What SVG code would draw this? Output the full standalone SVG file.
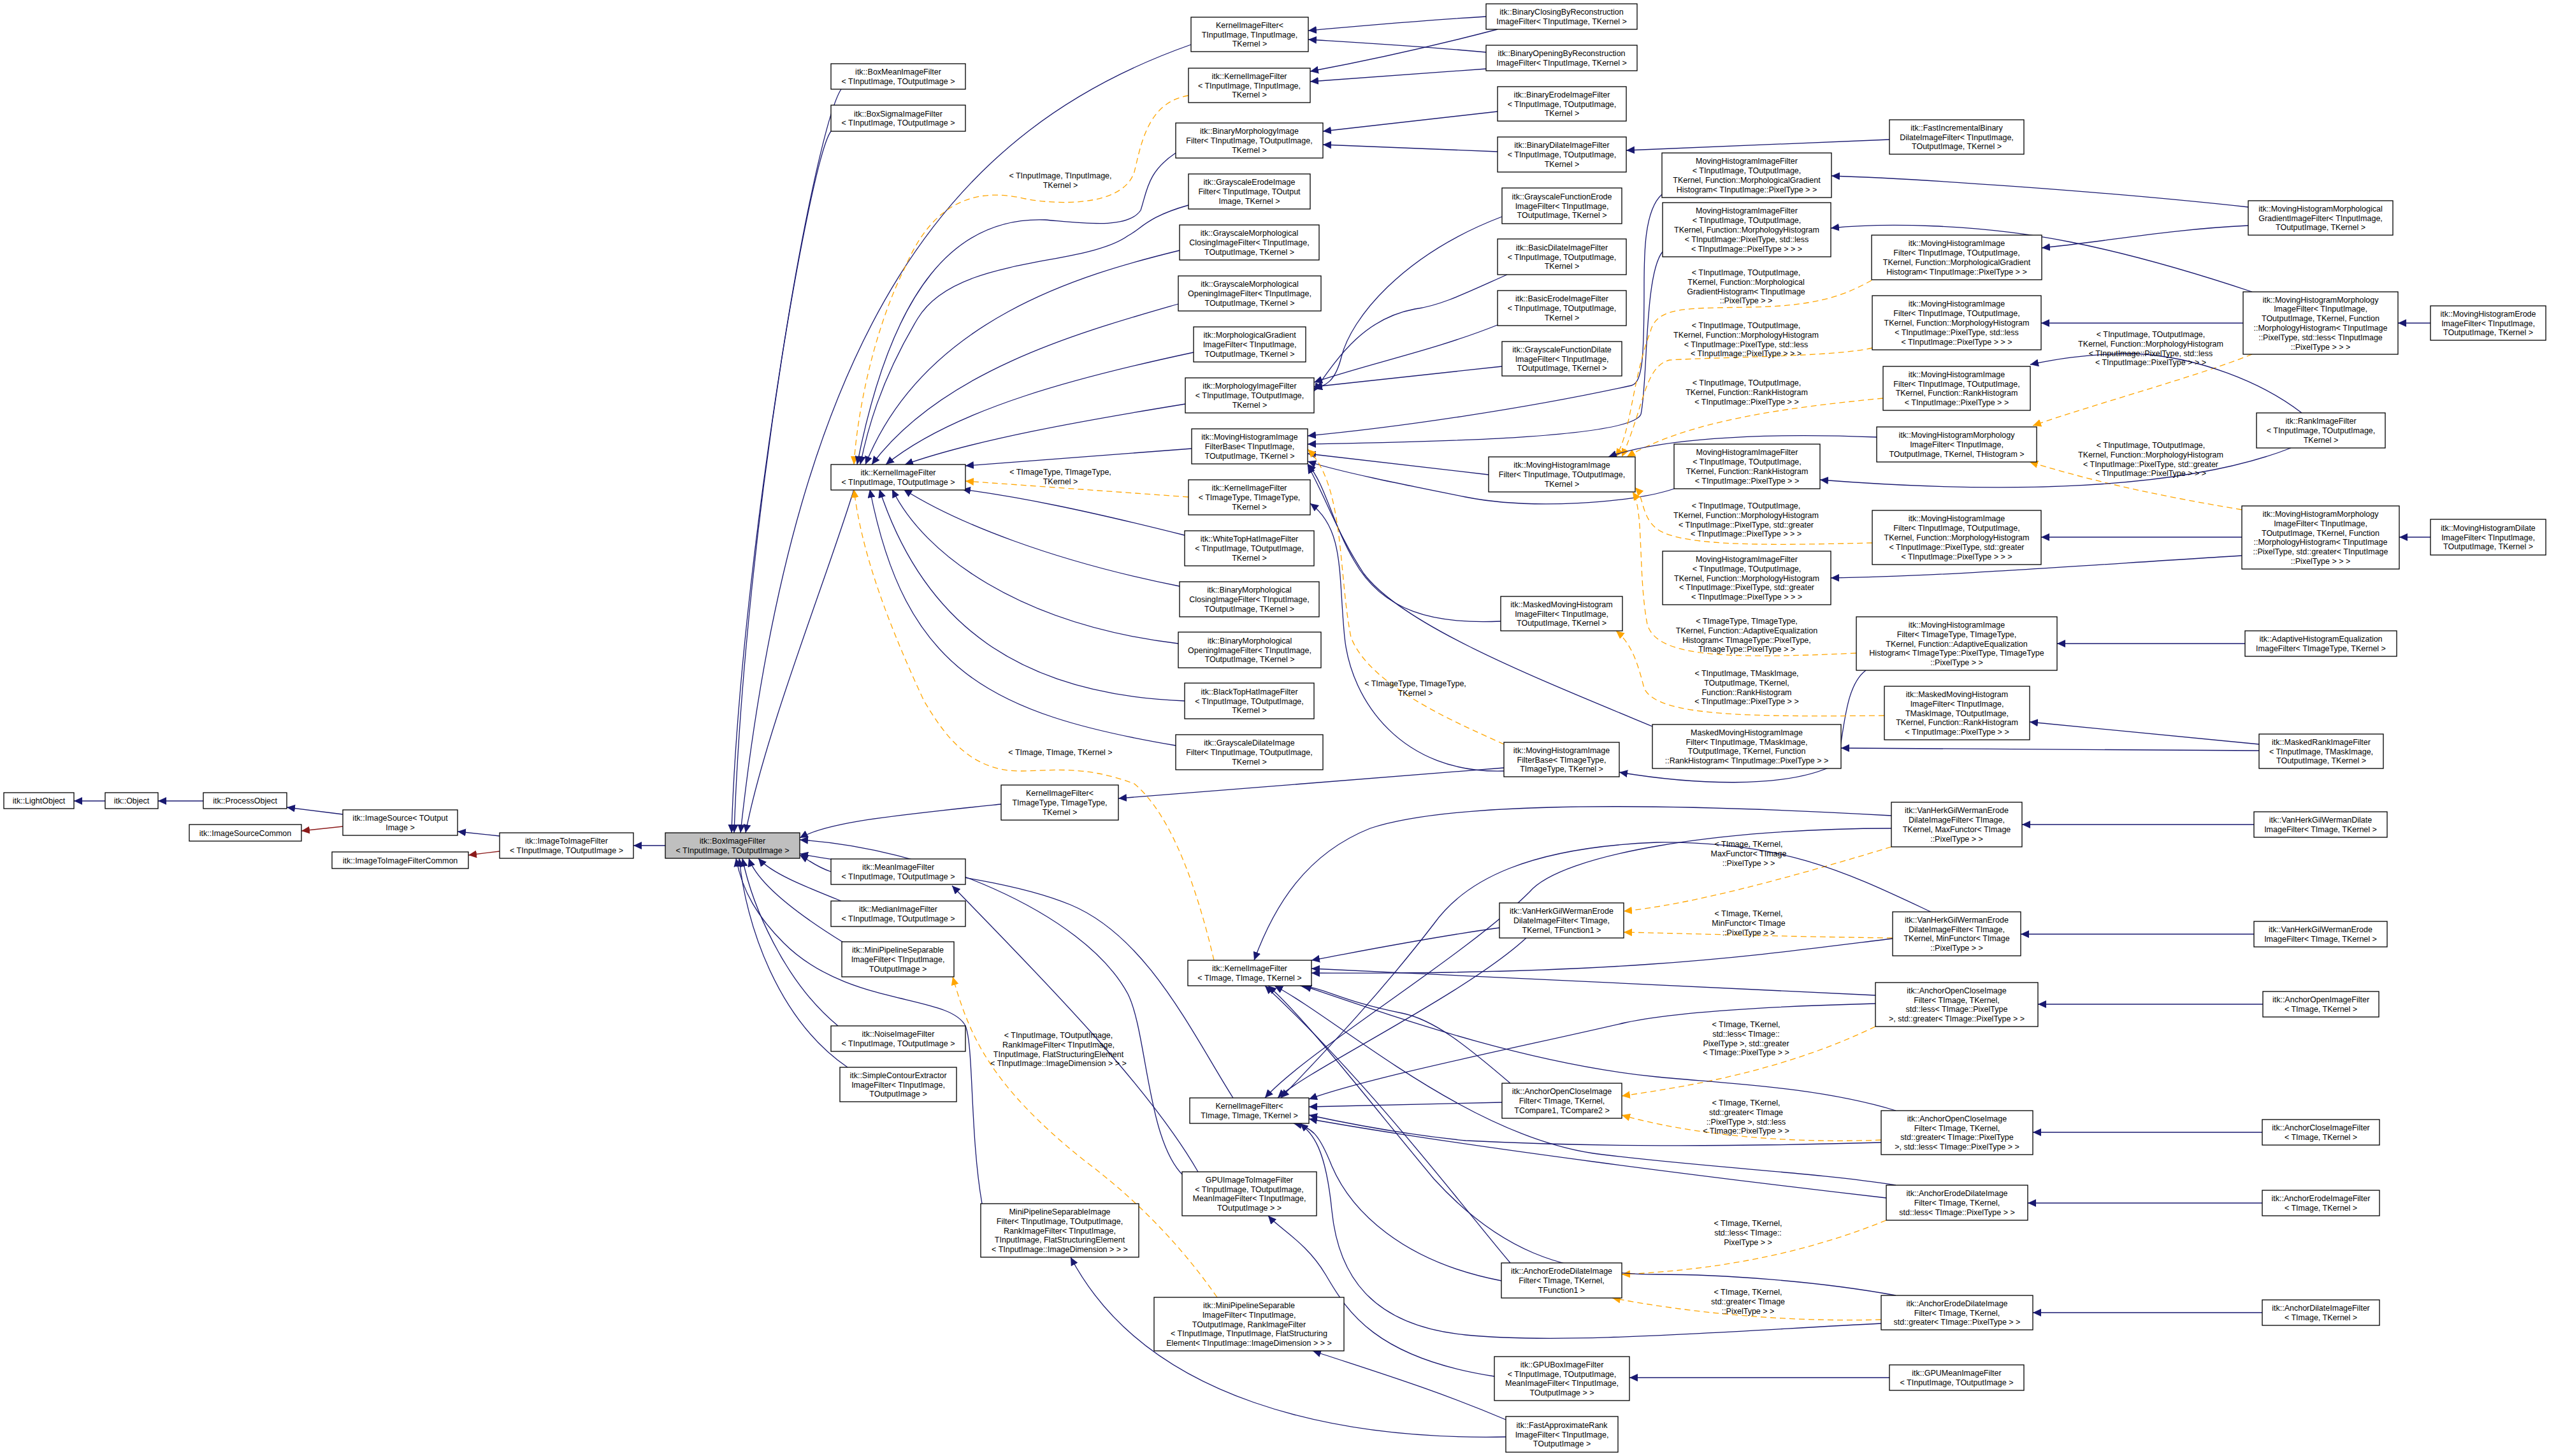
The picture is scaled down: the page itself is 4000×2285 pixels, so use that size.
<svg xmlns="http://www.w3.org/2000/svg" width="4000" height="2285" viewBox="0 0 4000 2285">
<style>
rect{fill:#fff;stroke:#000;stroke-width:1.3}
rect.g{fill:#bfbfbf}
text{font-family:"Liberation Sans",Arial,sans-serif;font-size:12.5px;text-anchor:middle;fill:#000}
.e{fill:none;stroke:#191970;stroke-width:1.3;marker-end:url(#ab)}
.d{fill:none;stroke:#FFA500;stroke-width:1.3;stroke-dasharray:9,6;marker-end:url(#ao)}
.r{fill:none;stroke:#8B1A1A;stroke-width:1.3;marker-end:url(#ar)}
</style>
<defs>
<marker id="ab" markerUnits="userSpaceOnUse" markerWidth="14" markerHeight="12" refX="13" refY="6" orient="auto"><path d="M0,0 L13,6 L0,12 z" fill="#191970"/></marker>
<marker id="ao" markerUnits="userSpaceOnUse" markerWidth="14" markerHeight="12" refX="13" refY="6" orient="auto"><path d="M0,0 L13,6 L0,12 z" fill="#FFA500"/></marker>
<marker id="ar" markerUnits="userSpaceOnUse" markerWidth="14" markerHeight="12" refX="13" refY="6" orient="auto"><path d="M0,0 L13,6 L0,12 z" fill="#8B1A1A"/></marker>
</defs>
<rect x="0" y="0" width="4000" height="2285" style="fill:#fff;stroke:none"/>
<g id="connectors">
<path class="e" d="M165,1257 L116,1257"/>
<path class="e" d="M319,1257 L248,1257"/>
<path class="e" d="M538,1278 L450,1267"/>
<path class="r" d="M538,1297 L473,1304"/>
<path class="e" d="M784,1312 L718,1305"/>
<path class="r" d="M784,1336 L735,1342"/>
<path class="e" d="M1044,1327 L994,1327"/>
<path class="e" d="M1869,70 C1500,200 1250,500 1162,1307"/>
<path class="e" d="M1320,140 C1280,200 1170,800 1152,1307"/>
<path class="e" d="M1304,206 C1270,250 1160,900 1148,1307"/>
<path class="e" d="M1340,768 C1300,900 1200,1150 1170,1307"/>
<path class="e" d="M1571,1262 C1400,1280 1300,1290 1255,1315"/>
<path class="e" d="M1304,1368 C1280,1360 1270,1350 1255,1342"/>
<path class="e" d="M1320,1414 C1260,1390 1210,1370 1190,1347"/>
<path class="e" d="M1325,1480 C1260,1440 1190,1390 1175,1347"/>
<path class="e" d="M1315,1610 C1230,1540 1180,1420 1165,1347"/>
<path class="e" d="M1330,1675 C1220,1600 1170,1450 1160,1347"/>
<path class="e" d="M1541,1889 C1522,1780 1528,1640 1515,1610 C1490,1560 1330,1580 1230,1480 C1190,1440 1165,1400 1155,1347"/>
<path class="e" d="M1935,1723 C1870,1620 1800,1470 1680,1420 C1560,1370 1350,1360 1255,1340"/>
<path class="e" d="M1857,1845 C1800,1790 1800,1620 1770,1560 C1700,1430 1450,1330 1255,1318"/>
<path class="e" d="M1880,1839 C1800,1700 1620,1520 1494,1390"/>
<path class="e" d="M2345,2160 C2150,2130 2110,2050 2080,2000 C2050,1950 2010,1930 1990,1908"/>
<path class="e" d="M2363,2228 C2250,2180 2150,2150 2060,2120"/>
<path class="e" d="M2363,2255 C2100,2260 1800,2200 1680,1973"/>
<path class="d" d="M1910,2036 C1850,1950 1780,1880 1700,1820 C1550,1700 1520,1620 1495,1533"/>
<path class="e" d="M2965,2162 L2557,2162"/>
<path class="e" d="M2332,26 C2200,34 2100,44 2053,48"/>
<path class="e" d="M2332,82 C2200,70 2100,65 2053,62"/>
<path class="e" d="M2350,46 C2220,80 2120,100 2056,112"/>
<path class="e" d="M2332,108 C2200,118 2100,124 2056,128"/>
<path class="d" d="M1865,150 C1800,160 1790,230 1780,270 C1760,330 1640,320 1600,310 C1500,290 1450,350 1420,420 C1370,520 1345,650 1340,729"/>
<path class="e" d="M2350,175 L2076,206"/>
<path class="e" d="M2350,238 L2076,227"/>
<path class="e" d="M2965,219 L2552,236"/>
<path class="e" d="M1845,240 C1800,270 1800,300 1790,330 C1770,360 1700,350 1640,345 C1500,340 1400,450 1345,729"/>
<path class="e" d="M1865,322 C1800,340 1790,360 1770,370 C1700,420 1500,400 1440,500 C1380,600 1360,680 1350,729"/>
<path class="e" d="M1851,393 C1700,430 1450,500 1358,729"/>
<path class="e" d="M1849,477 C1700,520 1480,580 1368,729"/>
<path class="e" d="M1873,553 C1700,590 1500,640 1390,729"/>
<path class="e" d="M1860,634 C1700,660 1530,690 1420,729"/>
<path class="e" d="M1870,704 L1515,731"/>
<path class="d" d="M1865,780 L1515,755"/>
<path class="e" d="M1859,840 C1700,800 1600,780 1510,768"/>
<path class="e" d="M1851,920 C1650,880 1500,820 1418,768"/>
<path class="e" d="M1849,1010 C1600,980 1450,870 1400,768"/>
<path class="e" d="M1859,1100 C1600,1090 1450,980 1380,768"/>
<path class="e" d="M1845,1170 C1550,1120 1420,1050 1365,768"/>
<path class="d" d="M1905,1507 C1880,1400 1840,1280 1780,1230 C1700,1200 1650,1210 1600,1210 C1520,1210 1480,1150 1450,1100 C1380,950 1350,850 1340,768"/>
<path class="e" d="M2357,340 C2200,400 2120,500 2105,560 C2095,600 2080,605 2062,610"/>
<path class="e" d="M2365,431 C2300,460 2260,480 2220,485 C2140,500 2100,560 2062,614"/>
<path class="e" d="M2350,510 C2250,550 2150,570 2062,600"/>
<path class="e" d="M2357,575 L2062,607"/>
<path class="e" d="M2608,305 C2580,330 2580,400 2580,450 C2580,560 2578,600 2560,605 C2400,640 2200,670 2052,684"/>
<path class="e" d="M2609,395 C2580,430 2586,600 2575,650 C2560,690 2200,694 2052,697"/>
<path class="e" d="M2336,745 L2052,712"/>
<path class="e" d="M2627,767 C2560,790 2400,800 2300,780 C2200,760 2100,740 2052,724"/>
<path class="e" d="M2355,975 C2250,980 2170,960 2125,880 C2090,820 2080,760 2052,728"/>
<path class="e" d="M2593,1140 C2400,1060 2200,980 2140,900 C2100,840 2080,780 2052,730"/>
<path class="d" d="M2360,1168 C2300,1140 2150,1080 2120,1000 C2100,900 2110,760 2052,705"/>
<path class="e" d="M2360,1210 C2200,1215 2120,1100 2110,1000 C2100,900 2110,830 2056,790"/>
<path class="e" d="M2360,1205 L1755,1253"/>
<path class="e" d="M2928,1052 C2890,1080 2895,1170 2880,1200 C2800,1240 2650,1230 2541,1212"/>
<path class="d" d="M2937,440 C2900,460 2860,480 2750,482 C2650,484 2600,480 2590,520 C2560,600 2560,680 2535,717"/>
<path class="d" d="M2938,546 C2880,560 2700,560 2620,565 C2580,575 2580,640 2545,717"/>
<path class="d" d="M2955,625 C2800,640 2650,660 2553,717"/>
<path class="d" d="M2938,852 C2800,855 2640,860 2600,830 C2575,810 2580,780 2566,765"/>
<path class="d" d="M2913,1025 C2700,1035 2600,1030 2585,980 C2570,900 2580,800 2562,772"/>
<path class="d" d="M2957,1123 C2750,1125 2600,1125 2580,1080 C2570,1040 2560,1010 2536,990"/>
<path class="e" d="M2945,686 C2750,678 2600,690 2524,717"/>
<path class="d" d="M3534,556 C3450,590 3300,630 3190,668"/>
<path class="d" d="M3518,800 C3400,780 3300,760 3185,725"/>
<path class="e" d="M3528,325 C3300,300 3000,280 2874,276"/>
<path class="e" d="M3528,354 C3400,360 3300,380 3204,389"/>
<path class="e" d="M3520,507 L3203,507"/>
<path class="e" d="M3534,458 C3450,430 3350,400 3250,380 C3100,350 2950,350 2873,358"/>
<path class="e" d="M3612,648 C3550,600 3450,560 3350,555 C3270,555 3220,565 3186,572"/>
<path class="e" d="M3595,703 C3450,760 3200,780 2856,753"/>
<path class="e" d="M3518,843 L3203,843"/>
<path class="e" d="M3518,872 C3300,885 3050,905 2873,907"/>
<path class="e" d="M3523,1010 L3228,1010"/>
<path class="e" d="M3545,1168 L3185,1133"/>
<path class="e" d="M3545,1178 L2889,1174"/>
<path class="e" d="M3814,507 L3763,507"/>
<path class="e" d="M3814,843 L3765,843"/>
<path class="e" d="M3537,1294 L3173,1294"/>
<path class="e" d="M3537,1466 L3171,1466"/>
<path class="e" d="M3551,1576 L3198,1576"/>
<path class="e" d="M3550,1777 L3190,1777"/>
<path class="e" d="M3550,1888 L3182,1888"/>
<path class="e" d="M3550,2060 L3190,2060"/>
<path class="d" d="M2968,1329 C2800,1380 2650,1420 2548,1430"/>
<path class="d" d="M2970,1472 C2800,1470 2650,1465 2548,1463"/>
<path class="d" d="M2943,1611 C2800,1680 2650,1705 2545,1720"/>
<path class="d" d="M2952,1789 C2800,1795 2650,1780 2545,1750"/>
<path class="d" d="M2960,1915 C2800,1980 2650,1995 2545,2000"/>
<path class="d" d="M2952,2071 C2800,2075 2650,2060 2530,2037"/>
<path class="e" d="M2353,1456 C2250,1470 2150,1490 2058,1507"/>
<path class="e" d="M2395,1472 C2300,1560 2050,1680 2005,1723"/>
<path class="e" d="M2968,1280 C2700,1265 2300,1250 2150,1300 C2050,1340 2000,1420 1968,1507"/>
<path class="e" d="M2968,1300 C2700,1300 2450,1340 2400,1400 C2300,1500 2050,1650 1985,1723"/>
<path class="e" d="M2970,1473 C2750,1500 2550,1530 2058,1527"/>
<path class="e" d="M3030,1431 C2900,1370 2800,1320 2600,1322 C2400,1330 2300,1380 2250,1450 C2150,1580 2050,1680 2010,1723"/>
<path class="e" d="M2357,1730 L2054,1737"/>
<path class="e" d="M2370,1700 C2300,1640 2250,1600 2200,1590 C2100,1570 2080,1550 2040,1547"/>
<path class="e" d="M2356,2010 C2200,1980 2120,1900 2090,1830 C2070,1780 2060,1770 2030,1763"/>
<path class="e" d="M2370,1982 C2300,1900 2150,1700 1985,1547"/>
<path class="e" d="M2943,1562 C2600,1545 2300,1530 2058,1520"/>
<path class="e" d="M2943,1575 C2750,1580 2620,1590 2550,1605 C2400,1640 2150,1690 2054,1725"/>
<path class="e" d="M2975,1743 C2850,1705 2700,1700 2600,1690 C2400,1670 2200,1600 2045,1547"/>
<path class="e" d="M2952,1793 C2700,1800 2500,1800 2300,1790 C2200,1780 2100,1760 2054,1750"/>
<path class="e" d="M2975,1860 C2850,1840 2650,1830 2500,1810 C2300,1780 2100,1600 2000,1547"/>
<path class="e" d="M2960,1880 C2700,1850 2300,1800 2054,1756"/>
<path class="e" d="M2975,2033 C2850,2010 2700,2000 2600,2000 C2450,2000 2350,1960 2250,1850 C2150,1730 2050,1600 1990,1547"/>
<path class="e" d="M2952,2077 C2700,2090 2450,2110 2300,2095 C2150,2080 2100,2000 2090,1900 C2080,1800 2060,1780 2040,1763"/>
</g>
<g id="labels">
<text y="280"><tspan x="1664">&lt; TInputImage, TInputImage,</tspan><tspan x="1664" dy="14.8">TKernel &gt;</tspan></text>
<text y="745"><tspan x="1664">&lt; TImageType, TImageType,</tspan><tspan x="1664" dy="14.8">TKernel &gt;</tspan></text>
<text y="1077"><tspan x="2221">&lt; TImageType, TImageType,</tspan><tspan x="2221" dy="14.8">TKernel &gt;</tspan></text>
<text y="1185"><tspan x="1664">&lt; TImage, TImage, TKernel &gt;</tspan></text>
<text y="1629"><tspan x="1661">&lt; TInputImage, TOutputImage,</tspan><tspan x="1661" dy="14.8">RankImageFilter&lt; TInputImage,</tspan><tspan x="1661" dy="14.8">TInputImage, FlatStructuringElement</tspan><tspan x="1661" dy="14.8">&lt; TInputImage::ImageDimension &gt; &gt; &gt;</tspan></text>
<text y="432"><tspan x="2740">&lt; TInputImage, TOutputImage,</tspan><tspan x="2740" dy="14.8">TKernel, Function::Morphological</tspan><tspan x="2740" dy="14.8">GradientHistogram&lt; TInputImage</tspan><tspan x="2740" dy="14.8">::PixelType &gt; &gt;</tspan></text>
<text y="515"><tspan x="2740">&lt; TInputImage, TOutputImage,</tspan><tspan x="2740" dy="14.8">TKernel, Function::MorphologyHistogram</tspan><tspan x="2740" dy="14.8">&lt; TInputImage::PixelType, std::less</tspan><tspan x="2740" dy="14.8">&lt; TInputImage::PixelType &gt; &gt; &gt;</tspan></text>
<text y="605"><tspan x="2741">&lt; TInputImage, TOutputImage,</tspan><tspan x="2741" dy="14.8">TKernel, Function::RankHistogram</tspan><tspan x="2741" dy="14.8">&lt; TInputImage::PixelType &gt; &gt;</tspan></text>
<text y="529"><tspan x="3375">&lt; TInputImage, TOutputImage,</tspan><tspan x="3375" dy="14.8">TKernel, Function::MorphologyHistogram</tspan><tspan x="3375" dy="14.8">&lt; TInputImage::PixelType, std::less</tspan><tspan x="3375" dy="14.8">&lt; TInputImage::PixelType &gt; &gt; &gt;</tspan></text>
<text y="703"><tspan x="3375">&lt; TInputImage, TOutputImage,</tspan><tspan x="3375" dy="14.8">TKernel, Function::MorphologyHistogram</tspan><tspan x="3375" dy="14.8">&lt; TInputImage::PixelType, std::greater</tspan><tspan x="3375" dy="14.8">&lt; TInputImage::PixelType &gt; &gt; &gt;</tspan></text>
<text y="798"><tspan x="2740">&lt; TInputImage, TOutputImage,</tspan><tspan x="2740" dy="14.8">TKernel, Function::MorphologyHistogram</tspan><tspan x="2740" dy="14.8">&lt; TInputImage::PixelType, std::greater</tspan><tspan x="2740" dy="14.8">&lt; TInputImage::PixelType &gt; &gt; &gt;</tspan></text>
<text y="979"><tspan x="2741">&lt; TImageType, TImageType,</tspan><tspan x="2741" dy="14.8">TKernel, Function::AdaptiveEqualization</tspan><tspan x="2741" dy="14.8">Histogram&lt; TImageType::PixelType,</tspan><tspan x="2741" dy="14.8">TImageType::PixelType &gt; &gt;</tspan></text>
<text y="1061"><tspan x="2741">&lt; TInputImage, TMaskImage,</tspan><tspan x="2741" dy="14.8">TOutputImage, TKernel,</tspan><tspan x="2741" dy="14.8">Function::RankHistogram</tspan><tspan x="2741" dy="14.8">&lt; TInputImage::PixelType &gt; &gt;</tspan></text>
<text y="1329"><tspan x="2744">&lt; TImage, TKernel,</tspan><tspan x="2744" dy="14.8">MaxFunctor&lt; TImage</tspan><tspan x="2744" dy="14.8">::PixelType &gt; &gt;</tspan></text>
<text y="1438"><tspan x="2744">&lt; TImage, TKernel,</tspan><tspan x="2744" dy="14.8">MinFunctor&lt; TImage</tspan><tspan x="2744" dy="14.8">::PixelType &gt; &gt;</tspan></text>
<text y="1612"><tspan x="2740">&lt; TImage, TKernel,</tspan><tspan x="2740" dy="14.8">std::less&lt; TImage::</tspan><tspan x="2740" dy="14.8">PixelType &gt;, std::greater</tspan><tspan x="2740" dy="14.8">&lt; TImage::PixelType &gt; &gt;</tspan></text>
<text y="1735"><tspan x="2740">&lt; TImage, TKernel,</tspan><tspan x="2740" dy="14.8">std::greater&lt; TImage</tspan><tspan x="2740" dy="14.8">::PixelType &gt;, std::less</tspan><tspan x="2740" dy="14.8">&lt; TImage::PixelType &gt; &gt;</tspan></text>
<text y="1924"><tspan x="2743">&lt; TImage, TKernel,</tspan><tspan x="2743" dy="14.8">std::less&lt; TImage::</tspan><tspan x="2743" dy="14.8">PixelType &gt; &gt;</tspan></text>
<text y="2032"><tspan x="2743">&lt; TImage, TKernel,</tspan><tspan x="2743" dy="14.8">std::greater&lt; TImage</tspan><tspan x="2743" dy="14.8">::PixelType &gt; &gt;</tspan></text>
</g>
<g id="n1"><rect x="6" y="1244" width="110" height="25"/><text x="61" y="1261">itk::LightObject</text></g>
<g id="n2"><rect x="165" y="1244" width="83" height="25"/><text x="206.5" y="1261">itk::Object</text></g>
<g id="n3"><rect x="319" y="1244" width="131" height="25"/><text x="384.5" y="1261">itk::ProcessObject</text></g>
<g id="n4"><rect x="538" y="1271" width="180" height="40"/><text y="1288"><tspan x="628">itk::ImageSource&lt; TOutput</tspan><tspan x="628" dy="14.8">Image &gt;</tspan></text></g>
<g id="n5"><rect x="297" y="1294" width="176" height="26"/><text x="385" y="1311.5">itk::ImageSourceCommon</text></g>
<g id="n6"><rect x="784" y="1307" width="210" height="40"/><text y="1324"><tspan x="889">itk::ImageToImageFilter</tspan><tspan x="889" dy="14.8">&lt; TInputImage, TOutputImage &gt;</tspan></text></g>
<g id="n7"><rect x="521" y="1337" width="214" height="26"/><text x="628" y="1354.5">itk::ImageToImageFilterCommon</text></g>
<g id="n8"><rect class="g" x="1044" y="1307" width="211" height="40"/><text y="1324"><tspan x="1149.5">itk::BoxImageFilter</tspan><tspan x="1149.5" dy="14.8">&lt; TInputImage, TOutputImage &gt;</tspan></text></g>
<g id="n9"><rect x="1304" y="100" width="211" height="40"/><text y="117"><tspan x="1409.5">itk::BoxMeanImageFilter</tspan><tspan x="1409.5" dy="14.8">&lt; TInputImage, TOutputImage &gt;</tspan></text></g>
<g id="n10"><rect x="1304" y="165" width="211" height="41"/><text y="182.6"><tspan x="1409.5">itk::BoxSigmaImageFilter</tspan><tspan x="1409.5" dy="14.8">&lt; TInputImage, TOutputImage &gt;</tspan></text></g>
<g id="n11"><rect x="1304" y="729" width="211" height="40"/><text y="746"><tspan x="1409.5">itk::KernelImageFilter</tspan><tspan x="1409.5" dy="14.8">&lt; TInputImage, TOutputImage &gt;</tspan></text></g>
<g id="n12"><rect x="1869" y="27" width="184" height="54"/><text y="43.7"><tspan x="1961">KernelImageFilter&lt;</tspan><tspan x="1961" dy="14.8">TInputImage, TInputImage,</tspan><tspan x="1961" dy="14.8">TKernel &gt;</tspan></text></g>
<g id="n13"><rect x="1865" y="107" width="191" height="54"/><text y="123.7"><tspan x="1960.5">itk::KernelImageFilter</tspan><tspan x="1960.5" dy="14.8">&lt; TInputImage, TInputImage,</tspan><tspan x="1960.5" dy="14.8">TKernel &gt;</tspan></text></g>
<g id="n14"><rect x="1845" y="193" width="231" height="55"/><text y="210.2"><tspan x="1960.5">itk::BinaryMorphologyImage</tspan><tspan x="1960.5" dy="14.8">Filter&lt; TInputImage, TOutputImage,</tspan><tspan x="1960.5" dy="14.8">TKernel &gt;</tspan></text></g>
<g id="n15"><rect x="1865" y="273" width="191" height="55"/><text y="290.2"><tspan x="1960.5">itk::GrayscaleErodeImage</tspan><tspan x="1960.5" dy="14.8">Filter&lt; TInputImage, TOutput</tspan><tspan x="1960.5" dy="14.8">Image, TKernel &gt;</tspan></text></g>
<g id="n16"><rect x="1851" y="353" width="219" height="55"/><text y="370.2"><tspan x="1960.5">itk::GrayscaleMorphological</tspan><tspan x="1960.5" dy="14.8">ClosingImageFilter&lt; TInputImage,</tspan><tspan x="1960.5" dy="14.8">TOutputImage, TKernel &gt;</tspan></text></g>
<g id="n17"><rect x="1849" y="433" width="224" height="55"/><text y="450.2"><tspan x="1961">itk::GrayscaleMorphological</tspan><tspan x="1961" dy="14.8">OpeningImageFilter&lt; TInputImage,</tspan><tspan x="1961" dy="14.8">TOutputImage, TKernel &gt;</tspan></text></g>
<g id="n18"><rect x="1873" y="513" width="176" height="55"/><text y="530.2"><tspan x="1961">itk::MorphologicalGradient</tspan><tspan x="1961" dy="14.8">ImageFilter&lt; TInputImage,</tspan><tspan x="1961" dy="14.8">TOutputImage, TKernel &gt;</tspan></text></g>
<g id="n19"><rect x="1860" y="593" width="202" height="55"/><text y="610.2"><tspan x="1961">itk::MorphologyImageFilter</tspan><tspan x="1961" dy="14.8">&lt; TInputImage, TOutputImage,</tspan><tspan x="1961" dy="14.8">TKernel &gt;</tspan></text></g>
<g id="n20"><rect x="1870" y="673" width="182" height="55"/><text y="690.2"><tspan x="1961">itk::MovingHistogramImage</tspan><tspan x="1961" dy="14.8">FilterBase&lt; TInputImage,</tspan><tspan x="1961" dy="14.8">TOutputImage, TKernel &gt;</tspan></text></g>
<g id="n21"><rect x="1865" y="753" width="191" height="55"/><text y="770.2"><tspan x="1960.5">itk::KernelImageFilter</tspan><tspan x="1960.5" dy="14.8">&lt; TImageType, TImageType,</tspan><tspan x="1960.5" dy="14.8">TKernel &gt;</tspan></text></g>
<g id="n22"><rect x="1859" y="833" width="203" height="55"/><text y="850.2"><tspan x="1960.5">itk::WhiteTopHatImageFilter</tspan><tspan x="1960.5" dy="14.8">&lt; TInputImage, TOutputImage,</tspan><tspan x="1960.5" dy="14.8">TKernel &gt;</tspan></text></g>
<g id="n23"><rect x="1851" y="913" width="219" height="55"/><text y="930.2"><tspan x="1960.5">itk::BinaryMorphological</tspan><tspan x="1960.5" dy="14.8">ClosingImageFilter&lt; TInputImage,</tspan><tspan x="1960.5" dy="14.8">TOutputImage, TKernel &gt;</tspan></text></g>
<g id="n24"><rect x="1849" y="992" width="224" height="56"/><text y="1009.7"><tspan x="1961">itk::BinaryMorphological</tspan><tspan x="1961" dy="14.8">OpeningImageFilter&lt; TInputImage,</tspan><tspan x="1961" dy="14.8">TOutputImage, TKernel &gt;</tspan></text></g>
<g id="n25"><rect x="1859" y="1072" width="203" height="56"/><text y="1089.7"><tspan x="1960.5">itk::BlackTopHatImageFilter</tspan><tspan x="1960.5" dy="14.8">&lt; TInputImage, TOutputImage,</tspan><tspan x="1960.5" dy="14.8">TKernel &gt;</tspan></text></g>
<g id="n26"><rect x="1845" y="1153" width="231" height="55"/><text y="1170.2"><tspan x="1960.5">itk::GrayscaleDilateImage</tspan><tspan x="1960.5" dy="14.8">Filter&lt; TInputImage, TOutputImage,</tspan><tspan x="1960.5" dy="14.8">TKernel &gt;</tspan></text></g>
<g id="n27"><rect x="1571" y="1232" width="184" height="55"/><text y="1249.2"><tspan x="1663">KernelImageFilter&lt;</tspan><tspan x="1663" dy="14.8">TImageType, TImageType,</tspan><tspan x="1663" dy="14.8">TKernel &gt;</tspan></text></g>
<g id="n28"><rect x="1304" y="1348" width="211" height="40"/><text y="1365"><tspan x="1409.5">itk::MeanImageFilter</tspan><tspan x="1409.5" dy="14.8">&lt; TInputImage, TOutputImage &gt;</tspan></text></g>
<g id="n29"><rect x="1304" y="1414" width="211" height="40"/><text y="1431"><tspan x="1409.5">itk::MedianImageFilter</tspan><tspan x="1409.5" dy="14.8">&lt; TInputImage, TOutputImage &gt;</tspan></text></g>
<g id="n30"><rect x="1321" y="1478" width="176" height="55"/><text y="1495.2"><tspan x="1409">itk::MiniPipelineSeparable</tspan><tspan x="1409" dy="14.8">ImageFilter&lt; TInputImage,</tspan><tspan x="1409" dy="14.8">TOutputImage &gt;</tspan></text></g>
<g id="n31"><rect x="1304" y="1610" width="211" height="40"/><text y="1627"><tspan x="1409.5">itk::NoiseImageFilter</tspan><tspan x="1409.5" dy="14.8">&lt; TInputImage, TOutputImage &gt;</tspan></text></g>
<g id="n32"><rect x="1318" y="1675" width="183" height="54"/><text y="1691.7"><tspan x="1409.5">itk::SimpleContourExtractor</tspan><tspan x="1409.5" dy="14.8">ImageFilter&lt; TInputImage,</tspan><tspan x="1409.5" dy="14.8">TOutputImage &gt;</tspan></text></g>
<g id="n33"><rect x="1864" y="1507" width="194" height="40"/><text y="1524"><tspan x="1961">itk::KernelImageFilter</tspan><tspan x="1961" dy="14.8">&lt; TImage, TImage, TKernel &gt;</tspan></text></g>
<g id="n34"><rect x="1867" y="1723" width="187" height="40"/><text y="1740"><tspan x="1960.5">KernelImageFilter&lt;</tspan><tspan x="1960.5" dy="14.8">TImage, TImage, TKernel &gt;</tspan></text></g>
<g id="n35"><rect x="1855" y="1839" width="211" height="69"/><text y="1855.8"><tspan x="1960.5">GPUImageToImageFilter</tspan><tspan x="1960.5" dy="14.8">&lt; TInputImage, TOutputImage,</tspan><tspan x="1960.5" dy="14.8">MeanImageFilter&lt; TInputImage,</tspan><tspan x="1960.5" dy="14.8">TOutputImage &gt; &gt;</tspan></text></g>
<g id="n36"><rect x="1539" y="1889" width="248" height="84"/><text y="1905.9"><tspan x="1663">MiniPipelineSeparableImage</tspan><tspan x="1663" dy="14.8">Filter&lt; TInputImage, TOutputImage,</tspan><tspan x="1663" dy="14.8">RankImageFilter&lt; TInputImage,</tspan><tspan x="1663" dy="14.8">TInputImage, FlatStructuringElement</tspan><tspan x="1663" dy="14.8">&lt; TInputImage::ImageDimension &gt; &gt; &gt;</tspan></text></g>
<g id="n37"><rect x="1811" y="2036" width="298" height="84"/><text y="2052.9"><tspan x="1960">itk::MiniPipelineSeparable</tspan><tspan x="1960" dy="14.8">ImageFilter&lt; TInputImage,</tspan><tspan x="1960" dy="14.8">TOutputImage, RankImageFilter</tspan><tspan x="1960" dy="14.8">&lt; TInputImage, TInputImage, FlatStructuring</tspan><tspan x="1960" dy="14.8">Element&lt; TInputImage::ImageDimension &gt; &gt; &gt;</tspan></text></g>
<g id="n38"><rect x="2332" y="6" width="237" height="40"/><text y="23"><tspan x="2450.5">itk::BinaryClosingByReconstruction</tspan><tspan x="2450.5" dy="14.8">ImageFilter&lt; TInputImage, TKernel &gt;</tspan></text></g>
<g id="n39"><rect x="2332" y="71" width="237" height="40"/><text y="88"><tspan x="2450.5">itk::BinaryOpeningByReconstruction</tspan><tspan x="2450.5" dy="14.8">ImageFilter&lt; TInputImage, TKernel &gt;</tspan></text></g>
<g id="n40"><rect x="2350" y="136" width="202" height="54"/><text y="152.7"><tspan x="2451">itk::BinaryErodeImageFilter</tspan><tspan x="2451" dy="14.8">&lt; TInputImage, TOutputImage,</tspan><tspan x="2451" dy="14.8">TKernel &gt;</tspan></text></g>
<g id="n41"><rect x="2350" y="215" width="202" height="55"/><text y="232.2"><tspan x="2451">itk::BinaryDilateImageFilter</tspan><tspan x="2451" dy="14.8">&lt; TInputImage, TOutputImage,</tspan><tspan x="2451" dy="14.8">TKernel &gt;</tspan></text></g>
<g id="n42"><rect x="2357" y="295" width="188" height="56"/><text y="312.7"><tspan x="2451">itk::GrayscaleFunctionErode</tspan><tspan x="2451" dy="14.8">ImageFilter&lt; TInputImage,</tspan><tspan x="2451" dy="14.8">TOutputImage, TKernel &gt;</tspan></text></g>
<g id="n43"><rect x="2350" y="375" width="202" height="56"/><text y="392.7"><tspan x="2451">itk::BasicDilateImageFilter</tspan><tspan x="2451" dy="14.8">&lt; TInputImage, TOutputImage,</tspan><tspan x="2451" dy="14.8">TKernel &gt;</tspan></text></g>
<g id="n44"><rect x="2350" y="456" width="202" height="55"/><text y="473.2"><tspan x="2451">itk::BasicErodeImageFilter</tspan><tspan x="2451" dy="14.8">&lt; TInputImage, TOutputImage,</tspan><tspan x="2451" dy="14.8">TKernel &gt;</tspan></text></g>
<g id="n45"><rect x="2357" y="536" width="188" height="54"/><text y="552.7"><tspan x="2451">itk::GrayscaleFunctionDilate</tspan><tspan x="2451" dy="14.8">ImageFilter&lt; TInputImage,</tspan><tspan x="2451" dy="14.8">TOutputImage, TKernel &gt;</tspan></text></g>
<g id="n46"><rect x="2336" y="717" width="230" height="55"/><text y="734.2"><tspan x="2451">itk::MovingHistogramImage</tspan><tspan x="2451" dy="14.8">Filter&lt; TInputImage, TOutputImage,</tspan><tspan x="2451" dy="14.8">TKernel &gt;</tspan></text></g>
<g id="n47"><rect x="2355" y="936" width="191" height="54"/><text y="952.7"><tspan x="2450.5">itk::MaskedMovingHistogram</tspan><tspan x="2450.5" dy="14.8">ImageFilter&lt; TInputImage,</tspan><tspan x="2450.5" dy="14.8">TOutputImage, TKernel &gt;</tspan></text></g>
<g id="n48"><rect x="2360" y="1165" width="181" height="54"/><text y="1181.7"><tspan x="2450.5">itk::MovingHistogramImage</tspan><tspan x="2450.5" dy="14.8">FilterBase&lt; TImageType,</tspan><tspan x="2450.5" dy="14.8">TImageType, TKernel &gt;</tspan></text></g>
<g id="n49"><rect x="2353" y="1417" width="195" height="55"/><text y="1434.2"><tspan x="2450.5">itk::VanHerkGilWermanErode</tspan><tspan x="2450.5" dy="14.8">DilateImageFilter&lt; TImage,</tspan><tspan x="2450.5" dy="14.8">TKernel, TFunction1 &gt;</tspan></text></g>
<g id="n50"><rect x="2357" y="1700" width="188" height="55"/><text y="1717.2"><tspan x="2451">itk::AnchorOpenCloseImage</tspan><tspan x="2451" dy="14.8">Filter&lt; TImage, TKernel,</tspan><tspan x="2451" dy="14.8">TCompare1, TCompare2 &gt;</tspan></text></g>
<g id="n51"><rect x="2356" y="1982" width="189" height="55"/><text y="1999.2"><tspan x="2450.5">itk::AnchorErodeDilateImage</tspan><tspan x="2450.5" dy="14.8">Filter&lt; TImage, TKernel,</tspan><tspan x="2450.5" dy="14.8">TFunction1 &gt;</tspan></text></g>
<g id="n52"><rect x="2345" y="2129" width="212" height="69"/><text y="2145.8"><tspan x="2451">itk::GPUBoxImageFilter</tspan><tspan x="2451" dy="14.8">&lt; TInputImage, TOutputImage,</tspan><tspan x="2451" dy="14.8">MeanImageFilter&lt; TInputImage,</tspan><tspan x="2451" dy="14.8">TOutputImage &gt; &gt;</tspan></text></g>
<g id="n53"><rect x="2363" y="2223" width="176" height="56"/><text y="2240.7"><tspan x="2451">itk::FastApproximateRank</tspan><tspan x="2451" dy="14.8">ImageFilter&lt; TInputImage,</tspan><tspan x="2451" dy="14.8">TOutputImage &gt;</tspan></text></g>
<g id="n54"><rect x="2965" y="188" width="211" height="54"/><text y="204.7"><tspan x="3070.5">itk::FastIncrementalBinary</tspan><tspan x="3070.5" dy="14.8">DilateImageFilter&lt; TInputImage,</tspan><tspan x="3070.5" dy="14.8">TOutputImage, TKernel &gt;</tspan></text></g>
<g id="n55"><rect x="2608" y="240" width="266" height="70"/><text y="257.3"><tspan x="2741">MovingHistogramImageFilter</tspan><tspan x="2741" dy="14.8">&lt; TInputImage, TOutputImage,</tspan><tspan x="2741" dy="14.8">TKernel, Function::MorphologicalGradient</tspan><tspan x="2741" dy="14.8">Histogram&lt; TInputImage::PixelType &gt; &gt;</tspan></text></g>
<g id="n56"><rect x="2609" y="318" width="264" height="85"/><text y="335.4"><tspan x="2741">MovingHistogramImageFilter</tspan><tspan x="2741" dy="14.8">&lt; TInputImage, TOutputImage,</tspan><tspan x="2741" dy="14.8">TKernel, Function::MorphologyHistogram</tspan><tspan x="2741" dy="14.8">&lt; TInputImage::PixelType, std::less</tspan><tspan x="2741" dy="14.8">&lt; TInputImage::PixelType &gt; &gt; &gt;</tspan></text></g>
<g id="n57"><rect x="2937" y="369" width="267" height="70"/><text y="386.3"><tspan x="3070.5">itk::MovingHistogramImage</tspan><tspan x="3070.5" dy="14.8">Filter&lt; TInputImage, TOutputImage,</tspan><tspan x="3070.5" dy="14.8">TKernel, Function::MorphologicalGradient</tspan><tspan x="3070.5" dy="14.8">Histogram&lt; TInputImage::PixelType &gt; &gt;</tspan></text></g>
<g id="n58"><rect x="2938" y="464" width="265" height="85"/><text y="481.4"><tspan x="3070.5">itk::MovingHistogramImage</tspan><tspan x="3070.5" dy="14.8">Filter&lt; TInputImage, TOutputImage,</tspan><tspan x="3070.5" dy="14.8">TKernel, Function::MorphologyHistogram</tspan><tspan x="3070.5" dy="14.8">&lt; TInputImage::PixelType, std::less</tspan><tspan x="3070.5" dy="14.8">&lt; TInputImage::PixelType &gt; &gt; &gt;</tspan></text></g>
<g id="n59"><rect x="2955" y="575" width="231" height="69"/><text y="591.8"><tspan x="3070.5">itk::MovingHistogramImage</tspan><tspan x="3070.5" dy="14.8">Filter&lt; TInputImage, TOutputImage,</tspan><tspan x="3070.5" dy="14.8">TKernel, Function::RankHistogram</tspan><tspan x="3070.5" dy="14.8">&lt; TInputImage::PixelType &gt; &gt;</tspan></text></g>
<g id="n60"><rect x="2945" y="670" width="251" height="55"/><text y="687.2"><tspan x="3070.5">itk::MovingHistogramMorphology</tspan><tspan x="3070.5" dy="14.8">ImageFilter&lt; TInputImage,</tspan><tspan x="3070.5" dy="14.8">TOutputImage, TKernel, THistogram &gt;</tspan></text></g>
<g id="n61"><rect x="2627" y="697" width="229" height="70"/><text y="714.3"><tspan x="2741.5">MovingHistogramImageFilter</tspan><tspan x="2741.5" dy="14.8">&lt; TInputImage, TOutputImage,</tspan><tspan x="2741.5" dy="14.8">TKernel, Function::RankHistogram</tspan><tspan x="2741.5" dy="14.8">&lt; TInputImage::PixelType &gt; &gt;</tspan></text></g>
<g id="n62"><rect x="2938" y="801" width="265" height="85"/><text y="818.4"><tspan x="3070.5">itk::MovingHistogramImage</tspan><tspan x="3070.5" dy="14.8">Filter&lt; TInputImage, TOutputImage,</tspan><tspan x="3070.5" dy="14.8">TKernel, Function::MorphologyHistogram</tspan><tspan x="3070.5" dy="14.8">&lt; TInputImage::PixelType, std::greater</tspan><tspan x="3070.5" dy="14.8">&lt; TInputImage::PixelType &gt; &gt; &gt;</tspan></text></g>
<g id="n63"><rect x="2609" y="865" width="264" height="84"/><text y="881.9"><tspan x="2741">MovingHistogramImageFilter</tspan><tspan x="2741" dy="14.8">&lt; TInputImage, TOutputImage,</tspan><tspan x="2741" dy="14.8">TKernel, Function::MorphologyHistogram</tspan><tspan x="2741" dy="14.8">&lt; TInputImage::PixelType, std::greater</tspan><tspan x="2741" dy="14.8">&lt; TInputImage::PixelType &gt; &gt; &gt;</tspan></text></g>
<g id="n64"><rect x="2913" y="968" width="315" height="84"/><text y="984.9"><tspan x="3070.5">itk::MovingHistogramImage</tspan><tspan x="3070.5" dy="14.8">Filter&lt; TImageType, TImageType,</tspan><tspan x="3070.5" dy="14.8">TKernel, Function::AdaptiveEqualization</tspan><tspan x="3070.5" dy="14.8">Histogram&lt; TImageType::PixelType, TImageType</tspan><tspan x="3070.5" dy="14.8">::PixelType &gt; &gt;</tspan></text></g>
<g id="n65"><rect x="2957" y="1077" width="228" height="84"/><text y="1093.9"><tspan x="3071">itk::MaskedMovingHistogram</tspan><tspan x="3071" dy="14.8">ImageFilter&lt; TInputImage,</tspan><tspan x="3071" dy="14.8">TMaskImage, TOutputImage,</tspan><tspan x="3071" dy="14.8">TKernel, Function::RankHistogram</tspan><tspan x="3071" dy="14.8">&lt; TInputImage::PixelType &gt; &gt;</tspan></text></g>
<g id="n66"><rect x="2593" y="1137" width="296" height="69"/><text y="1153.8"><tspan x="2741">MaskedMovingHistogramImage</tspan><tspan x="2741" dy="14.8">Filter&lt; TInputImage, TMaskImage,</tspan><tspan x="2741" dy="14.8">TOutputImage, TKernel, Function</tspan><tspan x="2741" dy="14.8">::RankHistogram&lt; TInputImage::PixelType &gt; &gt;</tspan></text></g>
<g id="n67"><rect x="2968" y="1259" width="205" height="70"/><text y="1276.3"><tspan x="3070.5">itk::VanHerkGilWermanErode</tspan><tspan x="3070.5" dy="14.8">DilateImageFilter&lt; TImage,</tspan><tspan x="3070.5" dy="14.8">TKernel, MaxFunctor&lt; TImage</tspan><tspan x="3070.5" dy="14.8">::PixelType &gt; &gt;</tspan></text></g>
<g id="n68"><rect x="2970" y="1431" width="201" height="69"/><text y="1447.8"><tspan x="3070.5">itk::VanHerkGilWermanErode</tspan><tspan x="3070.5" dy="14.8">DilateImageFilter&lt; TImage,</tspan><tspan x="3070.5" dy="14.8">TKernel, MinFunctor&lt; TImage</tspan><tspan x="3070.5" dy="14.8">::PixelType &gt; &gt;</tspan></text></g>
<g id="n69"><rect x="2943" y="1542" width="255" height="69"/><text y="1558.8"><tspan x="3070.5">itk::AnchorOpenCloseImage</tspan><tspan x="3070.5" dy="14.8">Filter&lt; TImage, TKernel,</tspan><tspan x="3070.5" dy="14.8">std::less&lt; TImage::PixelType</tspan><tspan x="3070.5" dy="14.8">&gt;, std::greater&lt; TImage::PixelType &gt; &gt;</tspan></text></g>
<g id="n70"><rect x="2952" y="1743" width="238" height="69"/><text y="1759.8"><tspan x="3071">itk::AnchorOpenCloseImage</tspan><tspan x="3071" dy="14.8">Filter&lt; TImage, TKernel,</tspan><tspan x="3071" dy="14.8">std::greater&lt; TImage::PixelType</tspan><tspan x="3071" dy="14.8">&gt;, std::less&lt; TImage::PixelType &gt; &gt;</tspan></text></g>
<g id="n71"><rect x="2960" y="1860" width="222" height="55"/><text y="1877.2"><tspan x="3071">itk::AnchorErodeDilateImage</tspan><tspan x="3071" dy="14.8">Filter&lt; TImage, TKernel,</tspan><tspan x="3071" dy="14.8">std::less&lt; TImage::PixelType &gt; &gt;</tspan></text></g>
<g id="n72"><rect x="2952" y="2033" width="238" height="54"/><text y="2049.7"><tspan x="3071">itk::AnchorErodeDilateImage</tspan><tspan x="3071" dy="14.8">Filter&lt; TImage, TKernel,</tspan><tspan x="3071" dy="14.8">std::greater&lt; TImage::PixelType &gt; &gt;</tspan></text></g>
<g id="n73"><rect x="2965" y="2142" width="211" height="40"/><text y="2159"><tspan x="3070.5">itk::GPUMeanImageFilter</tspan><tspan x="3070.5" dy="14.8">&lt; TInputImage, TOutputImage &gt;</tspan></text></g>
<g id="n74"><rect x="3528" y="315" width="227" height="54"/><text y="331.7"><tspan x="3641.5">itk::MovingHistogramMorphological</tspan><tspan x="3641.5" dy="14.8">GradientImageFilter&lt; TInputImage,</tspan><tspan x="3641.5" dy="14.8">TOutputImage, TKernel &gt;</tspan></text></g>
<g id="n75"><rect x="3520" y="458" width="243" height="98"/><text y="474.5"><tspan x="3641.5">itk::MovingHistogramMorphology</tspan><tspan x="3641.5" dy="14.8">ImageFilter&lt; TInputImage,</tspan><tspan x="3641.5" dy="14.8">TOutputImage, TKernel, Function</tspan><tspan x="3641.5" dy="14.8">::MorphologyHistogram&lt; TInputImage</tspan><tspan x="3641.5" dy="14.8">::PixelType, std::less&lt; TInputImage</tspan><tspan x="3641.5" dy="14.8">::PixelType &gt; &gt; &gt;</tspan></text></g>
<g id="n76"><rect x="3814" y="480" width="181" height="54"/><text y="496.7"><tspan x="3904.5">itk::MovingHistogramErode</tspan><tspan x="3904.5" dy="14.8">ImageFilter&lt; TInputImage,</tspan><tspan x="3904.5" dy="14.8">TOutputImage, TKernel &gt;</tspan></text></g>
<g id="n77"><rect x="3541" y="648" width="202" height="55"/><text y="665.2"><tspan x="3642">itk::RankImageFilter</tspan><tspan x="3642" dy="14.8">&lt; TInputImage, TOutputImage,</tspan><tspan x="3642" dy="14.8">TKernel &gt;</tspan></text></g>
<g id="n78"><rect x="3518" y="794" width="247" height="99"/><text y="811"><tspan x="3641.5">itk::MovingHistogramMorphology</tspan><tspan x="3641.5" dy="14.8">ImageFilter&lt; TInputImage,</tspan><tspan x="3641.5" dy="14.8">TOutputImage, TKernel, Function</tspan><tspan x="3641.5" dy="14.8">::MorphologyHistogram&lt; TInputImage</tspan><tspan x="3641.5" dy="14.8">::PixelType, std::greater&lt; TInputImage</tspan><tspan x="3641.5" dy="14.8">::PixelType &gt; &gt; &gt;</tspan></text></g>
<g id="n79"><rect x="3814" y="815" width="181" height="56"/><text y="832.7"><tspan x="3904.5">itk::MovingHistogramDilate</tspan><tspan x="3904.5" dy="14.8">ImageFilter&lt; TInputImage,</tspan><tspan x="3904.5" dy="14.8">TOutputImage, TKernel &gt;</tspan></text></g>
<g id="n80"><rect x="3523" y="990" width="238" height="40"/><text y="1007"><tspan x="3642">itk::AdaptiveHistogramEqualization</tspan><tspan x="3642" dy="14.8">ImageFilter&lt; TImageType, TKernel &gt;</tspan></text></g>
<g id="n81"><rect x="3545" y="1152" width="195" height="54"/><text y="1168.7"><tspan x="3642.5">itk::MaskedRankImageFilter</tspan><tspan x="3642.5" dy="14.8">&lt; TInputImage, TMaskImage,</tspan><tspan x="3642.5" dy="14.8">TOutputImage, TKernel &gt;</tspan></text></g>
<g id="n82"><rect x="3537" y="1274" width="209" height="40"/><text y="1291"><tspan x="3641.5">itk::VanHerkGilWermanDilate</tspan><tspan x="3641.5" dy="14.8">ImageFilter&lt; TImage, TKernel &gt;</tspan></text></g>
<g id="n83"><rect x="3537" y="1446" width="209" height="40"/><text y="1463"><tspan x="3641.5">itk::VanHerkGilWermanErode</tspan><tspan x="3641.5" dy="14.8">ImageFilter&lt; TImage, TKernel &gt;</tspan></text></g>
<g id="n84"><rect x="3551" y="1556" width="182" height="40"/><text y="1573"><tspan x="3642">itk::AnchorOpenImageFilter</tspan><tspan x="3642" dy="14.8">&lt; TImage, TKernel &gt;</tspan></text></g>
<g id="n85"><rect x="3550" y="1757" width="184" height="40"/><text y="1774"><tspan x="3642">itk::AnchorCloseImageFilter</tspan><tspan x="3642" dy="14.8">&lt; TImage, TKernel &gt;</tspan></text></g>
<g id="n86"><rect x="3550" y="1868" width="184" height="40"/><text y="1885"><tspan x="3642">itk::AnchorErodeImageFilter</tspan><tspan x="3642" dy="14.8">&lt; TImage, TKernel &gt;</tspan></text></g>
<g id="n87"><rect x="3550" y="2040" width="184" height="40"/><text y="2057"><tspan x="3642">itk::AnchorDilateImageFilter</tspan><tspan x="3642" dy="14.8">&lt; TImage, TKernel &gt;</tspan></text></g>
</svg>
